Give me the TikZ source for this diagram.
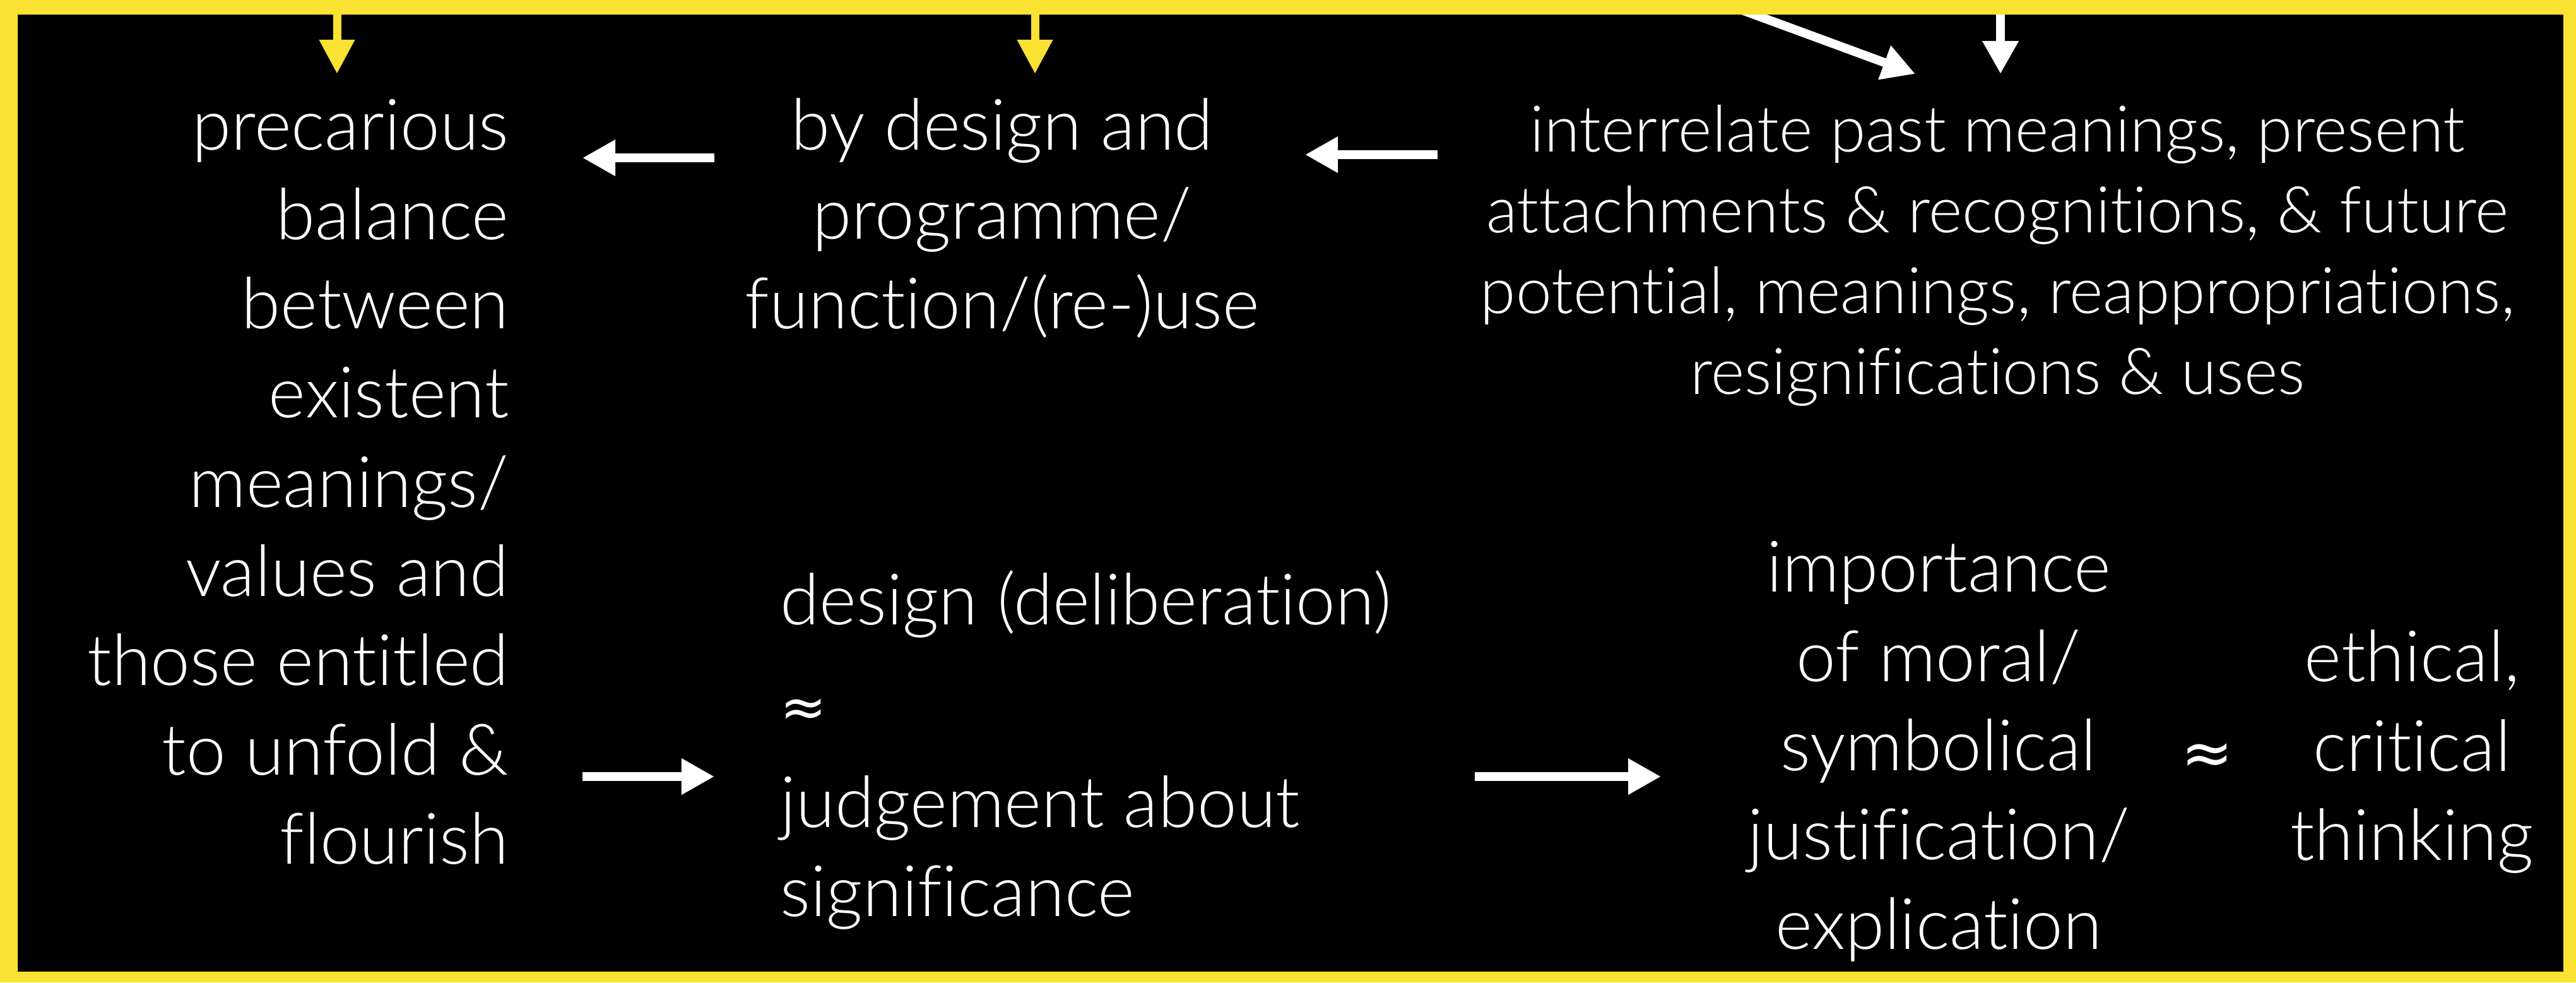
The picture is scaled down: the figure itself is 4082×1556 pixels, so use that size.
\documentclass[tikz,border=0pt]{standalone}
\usepackage{fontspec}
\setmainfont{Lato}[UprightFont=* Light, Ligatures=NoCommon]
\newfontfamily\apxfont{DejaVu Sans}
\usetikzlibrary{arrows.meta}
\definecolor{frameyellow}{RGB}{249,226,50}
\begin{document}
\begin{tikzpicture}[x=0.01cm,y=-0.01cm,
  txt/.style={text=white, inner sep=0pt, font=\fontsize{32pt}{1.4125cm}\selectfont},
  txtsmall/.style={text=white, inner sep=0pt, font=\fontsize{29pt}{1.28cm}\selectfont},
  apx/.style={text=white, inner sep=0pt, font=\apxfont\fontsize{28pt}{1.4125cm}\selectfont},
  warrow/.style={draw=white, line width=0.14cm, -{Triangle[length=0.52cm,width=0.54cm]}},
  yarrow/.style={draw=frameyellow, line width=0.13cm, -{Triangle[length=0.54cm,width=0.53cm]}}]
\useasboundingbox (0,0) rectangle (4082,1556);
\fill[black] (0,0) rectangle (4082,1556);

% text blocks
\node[txt, anchor=north east, align=right] (nL) at (807,138)
  {\strut precarious\\balance\\between\\existent\\meanings/\\values and\\those entitled\\to unfold \&\\flourish};
\node[txt, anchor=north, align=center] (nTM) at (1588,138)
  {\strut by design and\\programme/\\function/(re-)use};
\node[txtsmall, anchor=north, align=center] (nTR) at (3165,150)
  {\strut interrelate past meanings, present\\attachments \& recognitions, \& future\\potential, meanings, reappropriations,\\resignifications \& uses};
\node[txt, anchor=north west, align=left] (nBM) at (1236,890)
  {\strut design (deliberation)\\[0.19cm]{\apxfont\fontsize{25pt}{1.4125cm}\selectfont ≈}\\[0.19cm]judgement about\\significance};
\node[txt, anchor=north, align=center] (nBR) at (3072,838)
  {\strut importance\\of moral/\\symbolical\\justification/\\explication};
\node[apx, anchor=center] (nAp) at (3498,1202) {≈};
\node[txt, anchor=north, align=center] (nEt) at (3822,980)
  {\strut ethical,\\critical\\thinking};

% arrow end points
\coordinate (a1s) at (1132,250); \coordinate (a1e) at (923,250);
\coordinate (a2s) at (2278,245); \coordinate (a2e) at (2068,245);
\coordinate (a3s) at (923,1230); \coordinate (a3e) at (1132,1230);
\coordinate (a4s) at (2337,1230); \coordinate (a4e) at (2632,1230);
\coordinate (y1s) at (534,15); \coordinate (y1e) at (534,117);
\coordinate (y2s) at (1640,15); \coordinate (y2e) at (1640,117);
\coordinate (w1s) at (3170,15); \coordinate (w1e) at (3170,117);
\coordinate (dgs) at (2717,0); \coordinate (dge) at (3035,117);

\draw[warrow] (a1s) -- (a1e);
\draw[warrow] (a2s) -- (a2e);
\draw[warrow] (a3s) -- (a3e);
\draw[warrow] (a4s) -- (a4e);
\draw[yarrow] (y1s) -- (y1e);
\draw[yarrow] (y2s) -- (y2e);
\draw[warrow] (w1s) -- (w1e);
\draw[warrow] (dgs) -- (dge);

% frame
\fill[frameyellow, even odd rule] (0,0) rectangle (4082,1556) (28,23) rectangle (4062,1539);
\end{tikzpicture}
\end{document}
